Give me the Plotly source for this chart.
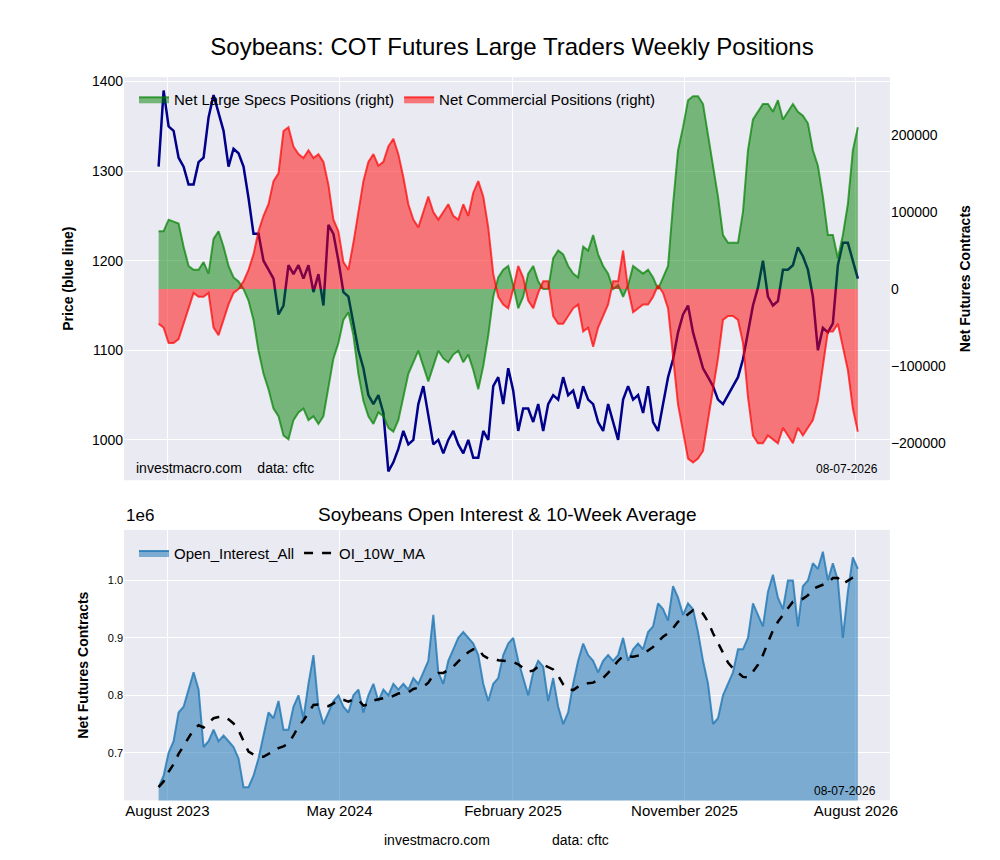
import plotly.graph_objects as go
import pandas as pd

# weekly report values
price = [1305, 1390, 1350, 1345, 1315, 1305, 1285, 1285, 1310, 1315, 1360, 1385, 1365, 1345, 1305, 1325, 1320, 1305,
         1270, 1230, 1230, 1200, 1190, 1180, 1140, 1150, 1195, 1185, 1195, 1180, 1195, 1165, 1185, 1150, 1240, 1230,
         1200, 1165, 1160, 1130, 1100, 1080, 1050, 1040, 1050, 1030, 965, 975, 990, 1010, 995, 1000, 1040, 1060,
         1025, 995, 1000, 985, 1000, 1010, 995, 985, 1000, 980, 980, 1010, 1000, 1060, 1070, 1040, 1080, 1055,
         1010, 1035, 1035, 1020, 1040, 1010, 1040, 1050, 1045, 1070, 1050, 1055, 1035, 1060, 1045, 1040, 1020, 1010,
         1040, 1020, 1000, 1045, 1060, 1045, 1050, 1030, 1060, 1020, 1010, 1040, 1070, 1090, 1120, 1140, 1150, 1120,
         1100, 1080, 1070, 1060, 1045, 1040, 1050, 1060, 1070, 1090, 1120, 1150, 1170, 1200, 1160, 1150, 1155, 1190,
         1190, 1195, 1215, 1205, 1190, 1160, 1100, 1125, 1120, 1130, 1195, 1220, 1220, 1200, 1180]

specs_k = [75, 75, 90, 88, 85, 55, 30, 25, 25, 35, 20, 65, 75, 55, 30, 15, 10, 0, -15, -40, -80, -110, -130, -155,
           -165, -190, -195, -170, -160, -155, -170, -165, -175, -165, -130, -90, -70, -40, -30, -60, -110, -145,
           -165, -175, -160, -165, -180, -185, -170, -140, -110, -95, -80, -100, -120, -100, -80, -90, -95, -85,
           -80, -95, -85, -105, -130, -100, -60, -10, 15, 25, 30, 5, -25, -10, 20, 30, 10, 0, 0, 40, 50, 45, 30,
           20, 15, 55, 50, 70, 45, 30, 20, 0, 5, -10, 5, 30, 25, 20, 25, 15, 0, 15, 30, 110, 180, 210, 245, 250,
           250, 240, 200, 160, 120, 70, 60, 60, 60, 100, 180, 220, 230, 240, 240, 230, 245, 220, 230, 240, 230,
           225, 215, 180, 160, 120, 70, 70, 40, 70, 110, 180, 210, 175]

comm_k = [-45, -50, -70, -70, -65, -45, -25, -5, -10, -10, -5, -50, -60, -40, -20, -5, 0, 10, 25, 45, 75, 95, 110,
          140, 150, 205, 210, 185, 175, 170, 180, 170, 175, 165, 135, 90, 75, 35, 25, 60, 100, 140, 165, 175, 160,
          165, 185, 195, 175, 145, 110, 90, 80, 100, 120, 100, 90, 100, 110, 95, 90, 110, 95, 125, 140, 120, 80,
          20, -10, -20, -25, 0, 30, 15, -15, -25, -5, 10, 10, -35, -45, -45, -35, -25, -20, -55, -50, -75, -50,
          -35, -20, 10, 10, 50, 0, -30, -25, -20, -20, -10, 5, -5, -25, -90, -150, -185, -220, -225, -220, -210,
          -170, -125, -90, -40, -35, -35, -40, -70, -140, -190, -200, -200, -190, -195, -200, -180, -190, -200,
          -180, -190, -180, -170, -145, -100, -55, -55, -45, -75, -105, -155, -185, -155]

oi_m = [0.64, 0.66, 0.70, 0.72, 0.77, 0.78, 0.81, 0.84, 0.81, 0.71, 0.72, 0.74, 0.72, 0.73, 0.72, 0.71, 0.69, 0.64,
        0.64, 0.66, 0.69, 0.73, 0.77, 0.76, 0.79, 0.74, 0.74, 0.78, 0.80, 0.76, 0.82, 0.87, 0.78, 0.75, 0.77, 0.79,
        0.80, 0.78, 0.77, 0.80, 0.81, 0.77, 0.80, 0.82, 0.79, 0.81, 0.80, 0.82, 0.81, 0.82, 0.81, 0.83, 0.82, 0.84,
        0.86, 0.94, 0.84, 0.82, 0.86, 0.88, 0.90, 0.91, 0.90, 0.89, 0.87, 0.82, 0.79, 0.82, 0.83, 0.87, 0.89, 0.90,
        0.86, 0.83, 0.80, 0.84, 0.86, 0.85, 0.79, 0.83, 0.78, 0.75, 0.77, 0.82, 0.86, 0.89, 0.87, 0.86, 0.84, 0.86,
        0.87, 0.86, 0.87, 0.90, 0.86, 0.88, 0.89, 0.88, 0.91, 0.92, 0.96, 0.95, 0.93, 0.99, 0.97, 0.94, 0.96, 0.95,
        0.91, 0.86, 0.82, 0.75, 0.76, 0.80, 0.82, 0.84, 0.88, 0.88, 0.90, 0.96, 0.94, 0.92, 0.98, 1.01, 0.97, 0.95,
        1.00, 1.00, 0.92, 0.99, 1.00, 1.03, 1.02, 1.05, 1.00, 1.03, 1.00, 0.90, 0.98, 1.04, 1.02, 0.99]

dates = pd.date_range("2023-07-18", "2026-08-04", periods=len(price))
specs = [v * 1000 for v in specs_k]
comm = [v * 1000 for v in comm_k]
oi = pd.Series([v * 1e6 for v in oi_m])
oi_ma = oi.rolling(10, min_periods=1).mean()

FONT = "Liberation Sans, Arial, sans-serif"
BG = "#EAEAF2"
xr = ["2023-05-24", "2026-09-24"]
tickv = ["2023-08-01", "2024-05-01", "2025-02-01", "2025-11-01", "2026-08-01"]
tickt = ["August 2023", "May 2024", "February 2025", "November 2025", "August 2026"]

fig = go.Figure()
fig.add_trace(go.Scatter(x=dates[:len(price)], y=price, mode="lines", line=dict(color="darkblue", width=2.5),
                         xaxis="x", yaxis="y", showlegend=False))
fig.add_trace(go.Scatter(x=dates[:len(specs)], y=specs, mode="lines", fill="tozeroy", fillcolor="rgba(0,128,0,0.5)",
                         line=dict(color="rgba(0,128,0,0.7)", width=2), name="Net Large Specs Positions (right)",
                         xaxis="x", yaxis="y2", legend="legend"))
fig.add_trace(go.Scatter(x=dates[:len(comm)], y=comm, mode="lines", fill="tozeroy", fillcolor="rgba(255,0,0,0.5)",
                         line=dict(color="rgba(255,0,0,0.7)", width=2), name="Net Commercial Positions (right)",
                         xaxis="x", yaxis="y2", legend="legend"))
fig.add_trace(go.Scatter(x=dates[:len(oi)], y=oi, mode="lines", fill="tozeroy", fillcolor="rgba(31,119,180,0.55)",
                         line=dict(color="rgba(31,119,180,0.8)", width=2), name="Open_Interest_All",
                         xaxis="x2", yaxis="y3", legend="legend2"))
fig.add_trace(go.Scatter(x=dates[:len(oi)], y=oi_ma, mode="lines", line=dict(color="black", width=2.5, dash="dash"),
                         name="OI_10W_MA", xaxis="x2", yaxis="y3", legend="legend2"))

ax = dict(gridcolor="white", zeroline=False, showline=False, ticks="")
fig.update_layout(
    width=1000, height=860, margin=dict(l=0, r=0, t=0, b=0),
    paper_bgcolor="white", plot_bgcolor=BG, font=dict(family=FONT, color="black"),
    title=dict(text="Soybeans: COT Futures Large Traders Weekly Positions", x=0.504, y=0.965,
               xanchor="center", font=dict(size=24)),
    xaxis=dict(ax, domain=[0.117, 0.889], range=xr, tickvals=tickv, showticklabels=False, anchor="y"),
    yaxis=dict(ax, domain=[0.453, 0.924], range=[955, 1405], tickvals=[1000, 1100, 1200, 1300, 1400],
               tickfont=dict(size=14), title=dict(text="<b>Price (blue line)</b>", font=dict(size=14))),
    yaxis2=dict(ax, overlaying="y", side="right", range=[-248000, 275000], showgrid=False,
                tickvals=[-200000, -100000, 0, 100000, 200000], tickformat="d", tickfont=dict(size=14),
                title=dict(text="<b>Net Futures Contracts</b>", font=dict(size=14))),
    xaxis2=dict(ax, domain=[0.117, 0.889], range=xr, tickvals=tickv, ticktext=tickt, anchor="y3",
                tickfont=dict(size=15)),
    yaxis3=dict(ax, domain=[0.079, 0.395], range=[617000, 1088000], anchor="x2",
                tickvals=[700000, 800000, 900000, 1000000], ticktext=["0.7", "0.8", "0.9", "1.0"],
                tickfont=dict(size=11), title=dict(text="<b>Net Futures Contracts</b>", font=dict(size=14))),
    legend=dict(x=0.127, y=0.917, xanchor="left", yanchor="top", orientation="h", bgcolor="rgba(0,0,0,0)",
                font=dict(size=15)),
    legend2=dict(x=0.127, y=0.387, xanchor="left", yanchor="top", orientation="h", bgcolor="rgba(0,0,0,0)",
                 font=dict(size=15)),
    annotations=[
        dict(text="investmacro.com    data: cftc", x=0.127, y=0.456, xref="paper", yref="paper",
             xanchor="left", yanchor="bottom", showarrow=False, font=dict(size=14)),
        dict(text="08-07-2026", x=0.879, y=0.456, xref="paper", yref="paper",
             xanchor="right", yanchor="bottom", showarrow=False, font=dict(size=12)),
        dict(text="Soybeans Open Interest & 10-Week Average", x=0.503, y=0.398, xref="paper", yref="paper",
             xanchor="center", yanchor="bottom", showarrow=False, font=dict(size=19)),
        dict(text="1e6", x=0.117, y=0.398, xref="paper", yref="paper",
             xanchor="left", yanchor="bottom", showarrow=False, font=dict(size=17)),
        dict(text="08-07-2026", x=0.877, y=0.080, xref="paper", yref="paper",
             xanchor="right", yanchor="bottom", showarrow=False, font=dict(size=12)),
        dict(text="investmacro.com                data: cftc", x=0.492, y=0.021, xref="paper", yref="paper",
             xanchor="center", yanchor="bottom", showarrow=False, font=dict(size=14)),
    ],
)

fig.write_html("out.html")
